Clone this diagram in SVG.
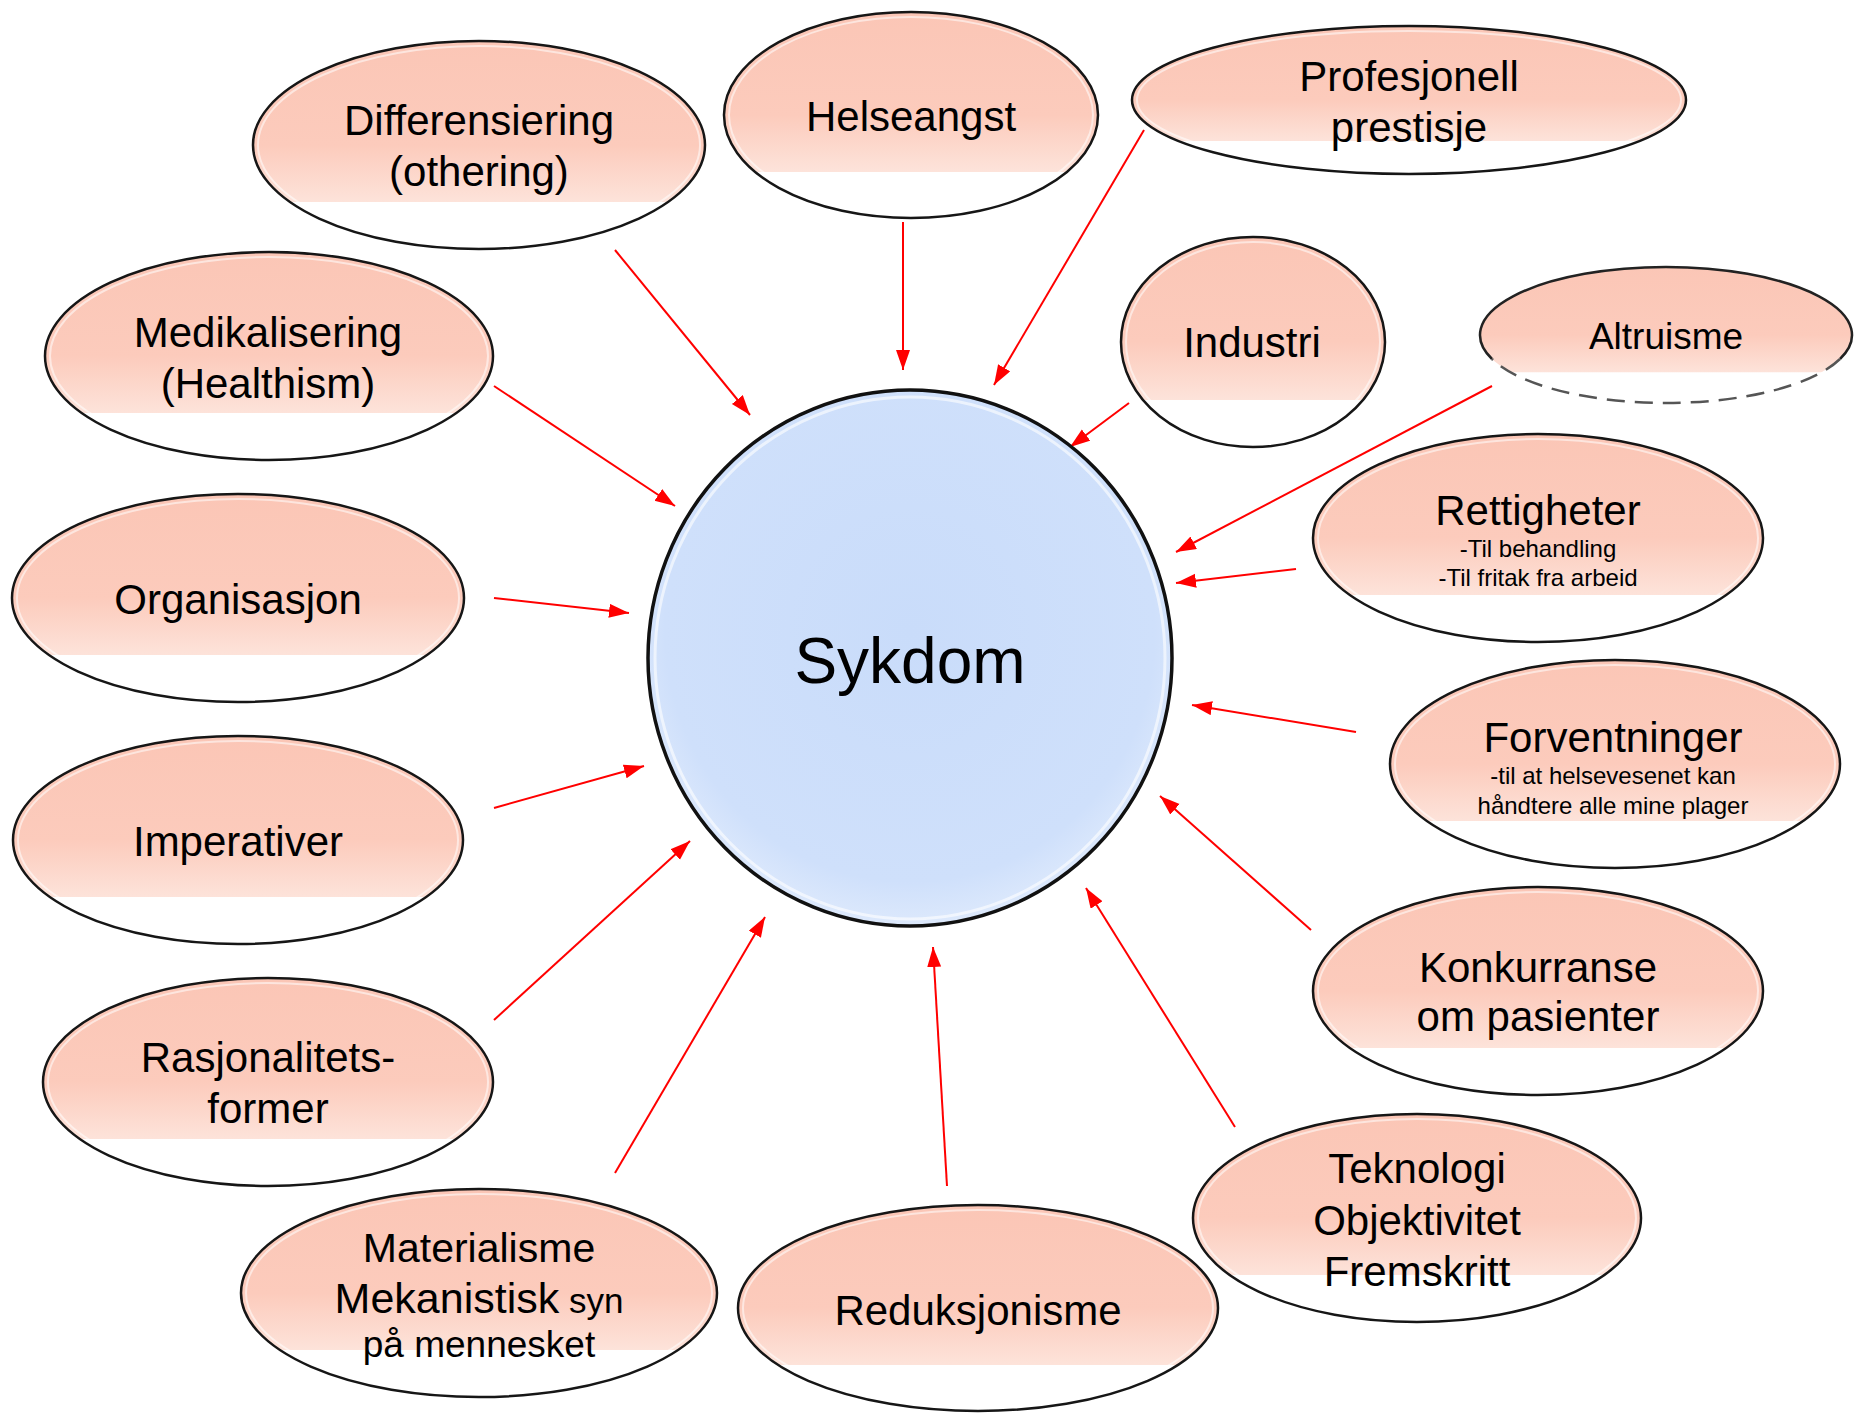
<svg xmlns="http://www.w3.org/2000/svg" width="1858" height="1413" viewBox="0 0 1858 1413">
<defs>
<linearGradient id="pink" x1="0" y1="0" x2="0" y2="1">
<stop offset="0" stop-color="#fbc6b6"/>
<stop offset="0.5" stop-color="#fccbbc"/>
<stop offset="0.775" stop-color="#fde3da"/>
<stop offset="0.776" stop-color="#ffffff"/>
<stop offset="1" stop-color="#ffffff"/>
</linearGradient>
<radialGradient id="blue" cx="0.5" cy="0.45" r="0.55">
<stop offset="0" stop-color="#c9dcfa"/>
<stop offset="0.85" stop-color="#cfe0fb"/>
<stop offset="1" stop-color="#dde9fc"/>
</radialGradient>
<marker id="ah" markerUnits="userSpaceOnUse" markerWidth="22" markerHeight="16" refX="20" refY="7" orient="auto">
<path d="M0,0 L20,7 L0,14 z" fill="#ff0000"/>
</marker>
</defs>
<style>
.bub{fill:url(#pink);stroke:#161616;stroke-width:2.5}
.gl{fill:none;stroke:#ffffff;stroke-opacity:0.55;stroke-width:2}
.t{font-family:"Liberation Sans",Arial,sans-serif;fill:#000;text-anchor:middle}
.m{font-size:42px}
.s{font-size:24px}
.con line{stroke:#ff0000;stroke-width:2;marker-end:url(#ah)}
</style>
<rect width="1858" height="1413" fill="#ffffff"/>

<g id="connectors" class="con">
<line x1="615" y1="250" x2="750" y2="415"/>
<line x1="903" y1="222" x2="903" y2="370"/>
<line x1="1144" y1="130" x2="994" y2="385"/>
<line x1="1129" y1="403" x2="1070" y2="447"/>
<line x1="1492" y1="386" x2="1176" y2="552"/>
<line x1="1296" y1="569" x2="1176" y2="583"/>
<line x1="1356" y1="732" x2="1192" y2="705"/>
<line x1="1311" y1="930" x2="1160" y2="796"/>
<line x1="1235" y1="1127" x2="1086" y2="888"/>
<line x1="947" y1="1186" x2="933" y2="947"/>
<line x1="615" y1="1173" x2="765" y2="917"/>
<line x1="494" y1="1020" x2="690" y2="841"/>
<line x1="494" y1="808" x2="644" y2="766"/>
<line x1="494" y1="598" x2="629" y2="613"/>
<line x1="494" y1="386" x2="675" y2="506"/>
</g>

<g id="sykdom">
<ellipse cx="910" cy="658" rx="262" ry="268" fill="url(#blue)" stroke="#111" stroke-width="3.5"/>
<ellipse cx="910" cy="658" rx="255" ry="261" fill="none" stroke="#ffffff" stroke-opacity="0.6" stroke-width="3"/>
<text class="t" x="910" y="683" font-size="64">Sykdom</text>
</g>

<g id="differensiering">
<ellipse class="bub" cx="479" cy="145" rx="226" ry="104"/>
<ellipse class="gl" cx="479" cy="145" rx="221" ry="99"/>
<text class="t m" x="479" y="135">Differensiering</text>
<text class="t m" x="479" y="186">(othering)</text>
</g>

<g id="helseangst">
<ellipse class="bub" cx="911" cy="115" rx="187" ry="103"/>
<ellipse class="gl" cx="911" cy="115" rx="182" ry="98"/>
<text class="t m" x="911" y="131">Helseangst</text>
</g>

<g id="profesjonell">
<ellipse class="bub" cx="1409" cy="100" rx="277" ry="74"/>
<ellipse class="gl" cx="1409" cy="100" rx="272" ry="69"/>
<text class="t m" x="1409" y="91">Profesjonell</text>
<text class="t m" x="1409" y="142">prestisje</text>
</g>

<g id="industri">
<ellipse class="bub" cx="1253" cy="342" rx="132" ry="105"/>
<ellipse class="gl" cx="1253" cy="342" rx="127" ry="100"/>
<text class="t m" x="1252" y="357">Industri</text>
</g>

<g id="altruisme">
<ellipse cx="1666" cy="335" rx="186" ry="68" fill="url(#pink)" stroke="none"/>
<path d="M1492,359 A186,68 0 1 1 1840,359" fill="none" stroke="#222" stroke-width="2.5"/>
<path d="M1840,359 A186,68 0 0 1 1492,359" fill="none" stroke="#555" stroke-width="2.5" stroke-dasharray="18,10"/>
<text class="t" x="1666" y="349" font-size="37">Altruisme</text>
</g>

<g id="rettigheter">
<ellipse class="bub" cx="1538" cy="538" rx="225" ry="104"/>
<ellipse class="gl" cx="1538" cy="538" rx="220" ry="99"/>
<text class="t m" x="1538" y="525">Rettigheter</text>
<text class="t s" x="1538" y="557">-Til behandling</text>
<text class="t s" x="1538" y="586">-Til fritak fra arbeid</text>
</g>

<g id="forventninger">
<ellipse class="bub" cx="1615" cy="764" rx="225" ry="104"/>
<ellipse class="gl" cx="1615" cy="764" rx="220" ry="99"/>
<text class="t m" x="1613" y="752">Forventninger</text>
<text class="t" x="1613" y="784" font-size="24">-til at helsevesenet kan</text>
<text class="t" x="1613" y="814" font-size="24">håndtere alle mine plager</text>
</g>

<g id="konkurranse">
<ellipse class="bub" cx="1538" cy="991" rx="225" ry="104"/>
<ellipse class="gl" cx="1538" cy="991" rx="220" ry="99"/>
<text class="t m" x="1538" y="982">Konkurranse</text>
<text class="t m" x="1538" y="1031">om pasienter</text>
</g>

<g id="teknologi">
<ellipse class="bub" cx="1417" cy="1218" rx="224" ry="104"/>
<ellipse class="gl" cx="1417" cy="1218" rx="219" ry="99"/>
<text class="t m" x="1417" y="1183">Teknologi</text>
<text class="t m" x="1417" y="1235">Objektivitet</text>
<text class="t m" x="1417" y="1286">Fremskritt</text>
</g>

<g id="reduksjonisme">
<ellipse class="bub" cx="978" cy="1308" rx="240" ry="103"/>
<ellipse class="gl" cx="978" cy="1308" rx="235" ry="98"/>
<text class="t m" x="978" y="1325">Reduksjonisme</text>
</g>

<g id="materialisme">
<ellipse class="bub" cx="479" cy="1293" rx="238" ry="104"/>
<ellipse class="gl" cx="479" cy="1293" rx="233" ry="99"/>
<text class="t" x="479" y="1262" font-size="41">Materialisme</text>
<text class="t" x="479" y="1313"><tspan font-size="43">Mekanistisk</tspan><tspan font-size="35"> syn</tspan></text>
<text class="t" x="479" y="1357" font-size="37">på mennesket</text>
</g>

<g id="rasjonalitet">
<ellipse class="bub" cx="268" cy="1082" rx="225" ry="104"/>
<ellipse class="gl" cx="268" cy="1082" rx="220" ry="99"/>
<text class="t m" x="268" y="1072">Rasjonalitets-</text>
<text class="t m" x="268" y="1123">former</text>
</g>

<g id="imperativer">
<ellipse class="bub" cx="238" cy="840" rx="225" ry="104"/>
<ellipse class="gl" cx="238" cy="840" rx="220" ry="99"/>
<text class="t m" x="238" y="856">Imperativer</text>
</g>

<g id="organisasjon">
<ellipse class="bub" cx="238" cy="598" rx="226" ry="104"/>
<ellipse class="gl" cx="238" cy="598" rx="221" ry="99"/>
<text class="t m" x="238" y="614">Organisasjon</text>
</g>

<g id="medikalisering">
<ellipse class="bub" cx="269" cy="356" rx="224" ry="104"/>
<ellipse class="gl" cx="269" cy="356" rx="219" ry="99"/>
<text class="t m" x="268" y="347">Medikalisering</text>
<text class="t m" x="268" y="398">(Healthism)</text>
</g>
</svg>
